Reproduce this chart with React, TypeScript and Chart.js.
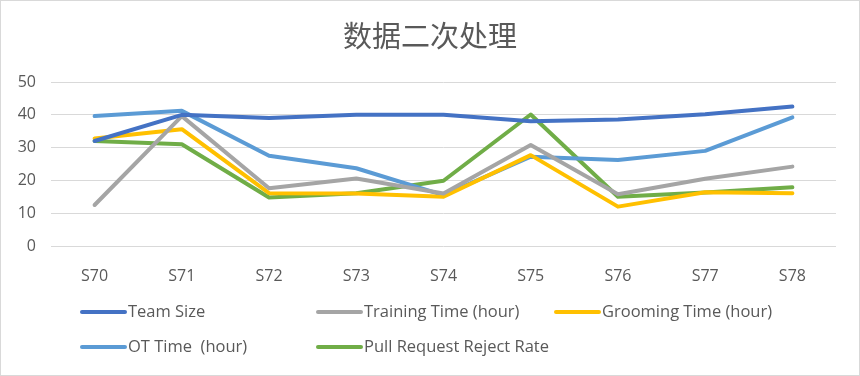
import React, { useEffect, useRef } from "react";
import { Chart, registerables } from "chart.js";

Chart.register(...registerables);

const categories = ["S70", "S71", "S72", "S73", "S74", "S75", "S76", "S77", "S78"];
const teamSize = [32, 40, 39, 40, 40, 38, 38.6, 40.2, 42.5];
const trainingTime = [12.5, 39.6, 17.6, 20.6, 16, 30.8, 15.8, 20.5, 24.2];
const groomingTime = [32.8, 35.6, 16.1, 16, 15, 27.7, 12, 16.4, 16.1];
const otTime = [39.6, 41.2, 27.5, 23.7, 15.5, 27.2, 26.2, 29, 39.2];
const prRejectRate = [32, 31, 14.8, 16.1, 19.9, 40.1, 15, 16.3, 17.9];
const seriesNames = ["Team Size", "Training Time (hour)", "Grooming Time (hour)", "OT Time  (hour)", "Pull Request Reject Rate"];
const seriesColors = ["#4472C4", "#A5A5A5", "#FFC000", "#5B9BD5", "#70AD47"];
const titleText = "数据二次处理";

const TEXT = "#595959";
const TICK_FONT = "'Open Sans', 'DejaVu Sans', sans-serif";
const LEGEND_FONT = "'Open Sans', sans-serif";

const decorPlugin = {
  id: "decor",
  afterDraw(chart: any) {
    const ctx = chart.ctx as CanvasRenderingContext2D;
    const w = chart.width;
    const h = chart.height;
    ctx.save();
    ctx.strokeStyle = "#D9D9D9";
    ctx.lineWidth = 1;
    ctx.strokeRect(0.5, 0.5, w - 1, h - 1);
    ctx.fillStyle = TEXT;
    ctx.font = "29px 'Noto Sans CJK SC', sans-serif";
    ctx.textAlign = "center";
    ctx.textBaseline = "middle";
    ctx.fillText(titleText, w / 2, 36);
    const cols = [82, 318, 556];
    const rows = [312, 347];
    ctx.font = "16px " + LEGEND_FONT;
    const refW = ctx.measureText("Pull Request Reject Rate").width;
    const sx = 185 / refW;
    chart.data.datasets.forEach((ds: any, i: number) => {
      const x = cols[i % 3];
      const y = rows[Math.floor(i / 3)];
      ctx.strokeStyle = ds.borderColor;
      ctx.lineWidth = 4;
      ctx.lineCap = "round";
      ctx.beginPath();
      ctx.moveTo(x, y);
      ctx.lineTo(x + 43, y);
      ctx.stroke();
      ctx.save();
      ctx.translate(x + 46, y);
      ctx.scale(sx, 1);
      ctx.fillStyle = TEXT;
      ctx.textAlign = "left";
      ctx.textBaseline = "middle";
      ctx.fillText(ds.label, 0, 0);
      ctx.restore();
    });
    ctx.restore();
  },
};

export default function App() {
  const ref = useRef<HTMLCanvasElement | null>(null);
  useEffect(() => {
    document.body.style.margin = "0";
    const all = [teamSize, trainingTime, groomingTime, otTime, prRejectRate];
    const chart = new Chart(ref.current!, {
      type: "line",
      data: {
        labels: categories,
        datasets: all.map((d, i) => ({
          label: seriesNames[i],
          data: d,
          borderColor: seriesColors[i],
          backgroundColor: seriesColors[i],
          borderWidth: 4,
          pointRadius: 0,
          tension: 0,
          borderJoinStyle: "round" as const,
          borderCapStyle: "round" as const,
        })),
      },
      options: {
        animation: false,
        responsive: false,
        layout: { padding: { top: 82, right: 24, bottom: 90, left: 0 } },
        plugins: {
          legend: { display: false },
          title: { display: false },
          tooltip: { enabled: false },
        },
        scales: {
          x: {
            offset: true,
            grid: { display: false },
            border: { display: false },
            ticks: { color: TEXT, font: { family: TICK_FONT, size: 16 }, padding: 13 },
            afterFit: (s: any) => { s.height = 40; },
          },
          y: {
            min: 0,
            max: 50,
            ticks: { stepSize: 10, color: TEXT, font: { family: TICK_FONT, size: 16 }, padding: 15 },
            grid: { color: "#D9D9D9", lineWidth: 1, drawTicks: false },
            border: { display: false },
            afterFit: (s: any) => { s.width = 51; },
          },
        },
      },
      plugins: [decorPlugin],
    });
    return () => chart.destroy();
  }, []);
  return <canvas ref={ref} width={860} height={376} style={{ display: "block" }} />;
}
